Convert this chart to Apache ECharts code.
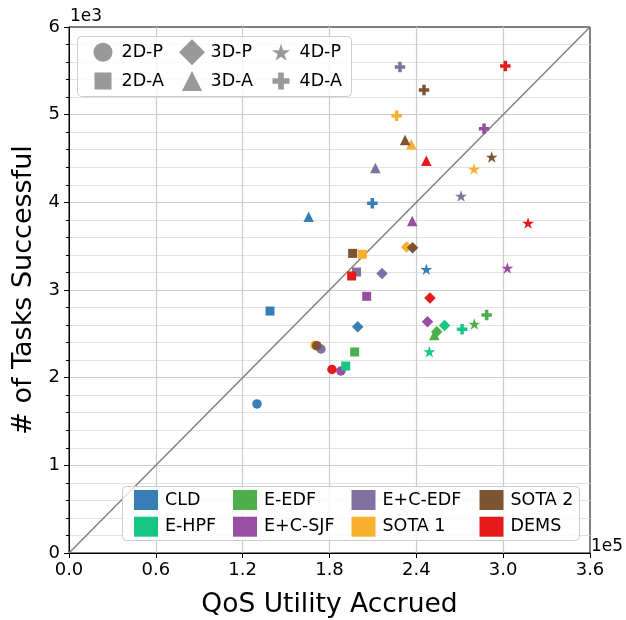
<!DOCTYPE html>
<html><head><meta charset="utf-8">
<script src="https://cdn.jsdelivr.net/npm/echarts@6/dist/echarts.min.js"></script>
<style>html,body{margin:0;padding:0;background:#fff}#c{width:626px;height:620px}</style>
</head><body><div id="c"></div>
<script>
// Shape categories (order of values in each algorithm array)
const shapeNames = ['2D-P', '2D-A', '3D-P', '3D-A', '4D-P', '4D-A'];
const algorithms = ['CLD', 'E-HPF', 'E-EDF', 'E+C-SJF', 'E+C-EDF', 'SOTA 1', 'SOTA 2', 'DEMS'];

// QoS Utility Accrued (x, in units of 1e5) and # of Tasks Successful (y, in units of 1e3)
const cldQoS      = [1.299, 1.389, 1.995, 1.656, 2.469, 2.096];
const cldTasks    = [1.700, 2.760, 2.581, 3.836, 3.236, 3.989];
const ehpfQoS     = [null, 1.912, 2.595, null, 2.490, 2.716];
const ehpfTasks   = [null, 2.133, 2.595, null, 2.296, 2.552];
const eedfQoS     = [null, 1.974, 2.541, 2.524, 2.801, 2.886];
const eedfTasks   = [null, 2.293, 2.524, 2.487, 2.612, 2.715];
const ecsjfQoS    = [1.879, 2.057, 2.477, 2.372, 3.029, 2.868];
const ecsjfTasks  = [2.076, 2.928, 2.638, 3.787, 3.251, 4.840];
const ecedfQoS    = [1.741, 1.987, 2.163, 2.117, 2.709, 2.287];
const ecedfTasks  = [2.327, 3.205, 3.188, 4.391, 4.072, 5.543];
const sota1QoS    = [1.700, 2.027, 2.333, 2.365, 2.799, 2.264];
const sota1Tasks  = [2.370, 3.407, 3.490, 4.662, 4.380, 4.988];
const sota2QoS    = [1.712, 1.960, 2.374, 2.322, 2.921, 2.453];
const sota2Tasks  = [2.365, 3.418, 3.482, 4.711, 4.517, 5.281];
const demsQoS     = [1.817, 1.953, 2.494, 2.469, 3.172, 3.015];
const demsTasks   = [2.093, 3.160, 2.909, 4.475, 3.764, 5.555];

// Tick labels
const xTicks = ['0.0', '0.6', '1.2', '1.8', '2.4', '3.0', '3.6'];
const yTicks = ['0', '1', '2', '3', '4', '5', '6'];

const qosByAlg = [cldQoS, ehpfQoS, eedfQoS, ecsjfQoS, ecedfQoS, sota1QoS, sota2QoS, demsQoS];
const tasksByAlg = [cldTasks, ehpfTasks, eedfTasks, ecsjfTasks, ecedfTasks, sota1Tasks, sota2Tasks, demsTasks];
const colors = ['#377eb8', '#16c784', '#4daf4a', '#984ea3', '#8071a0', '#f9b031', '#7d5432', '#e41a1c'];

const STAR = 'path://M0,-1L0.2245,-0.309L0.951,-0.309L0.363,0.118L0.588,0.809L0,0.382L-0.588,0.809L-0.363,0.118L-0.951,-0.309L-0.2245,-0.309Z';
const PLUS = 'path://M-1,-3L1,-3L1,-1L3,-1L3,1L1,1L1,3L-1,3L-1,1L-3,1L-3,-1L-1,-1Z';
const symbols = ['circle', 'rect', 'diamond', 'triangle', STAR, PLUS];
const symSizes = [9.5, 9, 11.5, 10.5, [12, 11.5], 10.5];

const FONT = 'DejaVu Sans';
const series = [];
series.push({
  type: 'line', data: [[0, 0], [3.6, 6]], showSymbol: false, silent: true, z: 1,
  lineStyle: { color: '#808080', width: 1.5 }, animation: false
});
for (let s = 0; s < shapeNames.length; s++) {
  for (let a = 0; a < algorithms.length; a++) {
    const x = qosByAlg[a][s], y = tasksByAlg[a][s];
    if (x == null) continue;
    series.push({
      type: 'scatter', name: algorithms[a], symbol: symbols[s], symbolSize: symSizes[s],
      itemStyle: { color: colors[a], opacity: 1 }, data: [[x, y]], z: 2, animation: false
    });
  }
}
// shape legend helper series (no data)
const legSizes = [19, 17, 26, 20, 18, 17];
const legCx = [103, 103, 192, 192, 281, 281];
const legCy = [52.3, 81, 52.3, 81, 52.3, 81];
shapeNames.forEach((n, i) => {
  series.push({ type: 'scatter', name: n, symbol: symbols[i], data: [], itemStyle: { color: '#808080' } });
});

const legends = [];
shapeNames.forEach((n, i) => {
  const sz = legSizes[i];
  legends.push({
    data: [{ name: n, icon: symbols[i] }], orient: 'vertical', selectedMode: false,
    left: legCx[i] - sz / 2, top: legCy[i] - Math.max(sz, 20) / 2, padding: 0,
    itemWidth: sz, itemHeight: sz, z: 5,
    textStyle: { fontFamily: FONT, fontSize: 17.5, color: '#000', lineHeight: 20, padding: [0, 0, 0, 18.5 - sz / 2 - 5] }
  });
});
const colLeft = [134, 233, 351.5, 479.5];
for (let c = 0; c < 4; c++) {
  legends.push({
    data: [algorithms[2 * c], algorithms[2 * c + 1]], orient: 'vertical', selectedMode: false, icon: 'rect',
    left: colLeft[c], top: 490, padding: 0, itemWidth: 24, itemHeight: 20, itemGap: 6.7, z: 5,
    textStyle: { fontFamily: FONT, fontSize: 17.5, color: '#000', lineHeight: 20, padding: [0, 0, 0, 2] }
  });
}

const chart = echarts.init(document.getElementById('c'), null, { renderer: 'canvas' });
chart.setOption({
  animation: false,
  backgroundColor: '#fff',
  textStyle: { fontFamily: FONT },
  grid: { left: 69, right: 36, top: 27, bottom: 67, outerBoundsMode: 'none', containLabel: false, show: true, borderColor: '#000', borderWidth: 1, backgroundColor: 'transparent' },
  xAxis: {
    type: 'value', min: 0, max: 3.6, interval: 0.6,
    name: 'QoS Utility Accrued', nameLocation: 'middle', nameGap: 39,
    nameTextStyle: { fontFamily: FONT, fontSize: 26.5, color: '#000' },
    axisLine: { show: true, onZero: false, lineStyle: { color: '#000', width: 1 } },
    axisTick: { show: true, length: 5, lineStyle: { color: '#000' } },
    axisLabel: { fontFamily: FONT, fontSize: 18, color: '#000', margin: 8, formatter: v => xTicks[Math.round(v / 0.6)] },
    splitLine: { show: true, showMinLine: false, showMaxLine: false, lineStyle: { color: '#cccccc', width: 1.2 } }
  },
  yAxis: {
    type: 'value', min: 0, max: 6, interval: 1,
    name: '# of Tasks Successful', nameLocation: 'middle', nameGap: 32,
    nameTextStyle: { fontFamily: FONT, fontSize: 27, color: '#000' },
    axisLine: { show: true, onZero: false, lineStyle: { color: '#000', width: 1 } },
    axisTick: { show: true, length: 5, lineStyle: { color: '#000' } },
    minorTick: { show: true, splitNumber: 5, length: 3, lineStyle: { color: '#000' } },
    axisLabel: { fontFamily: FONT, fontSize: 18, color: '#000', margin: 9, formatter: v => yTicks[Math.round(v)] },
    splitLine: { show: true, showMinLine: false, showMaxLine: false, lineStyle: { color: '#cccccc', width: 1.2 } },
    minorSplitLine: { show: true, lineStyle: { color: '#e3e3e3', width: 1 } }
  },
  legend: legends,
  graphic: [
    { type: 'rect', z: 4, shape: { x: 77.5, y: 36.5, width: 274, height: 60, r: 4 }, style: { fill: 'rgba(255,255,255,0.8)', stroke: '#cccccc', lineWidth: 1 } },
    { type: 'rect', z: 4, shape: { x: 122.5, y: 486.5, width: 457, height: 54, r: 4 }, style: { fill: 'rgba(255,255,255,0.8)', stroke: '#cccccc', lineWidth: 1 } },
    { type: 'text', z: 4, left: 70, top: 8, style: { text: '1e3', font: '17px "DejaVu Sans"', fill: '#000' } },
    { type: 'text', z: 4, left: 591, top: 538, style: { text: '1e5', font: '17px "DejaVu Sans"', fill: '#000' } }
  ],
  series: series
});
</script></body></html>
